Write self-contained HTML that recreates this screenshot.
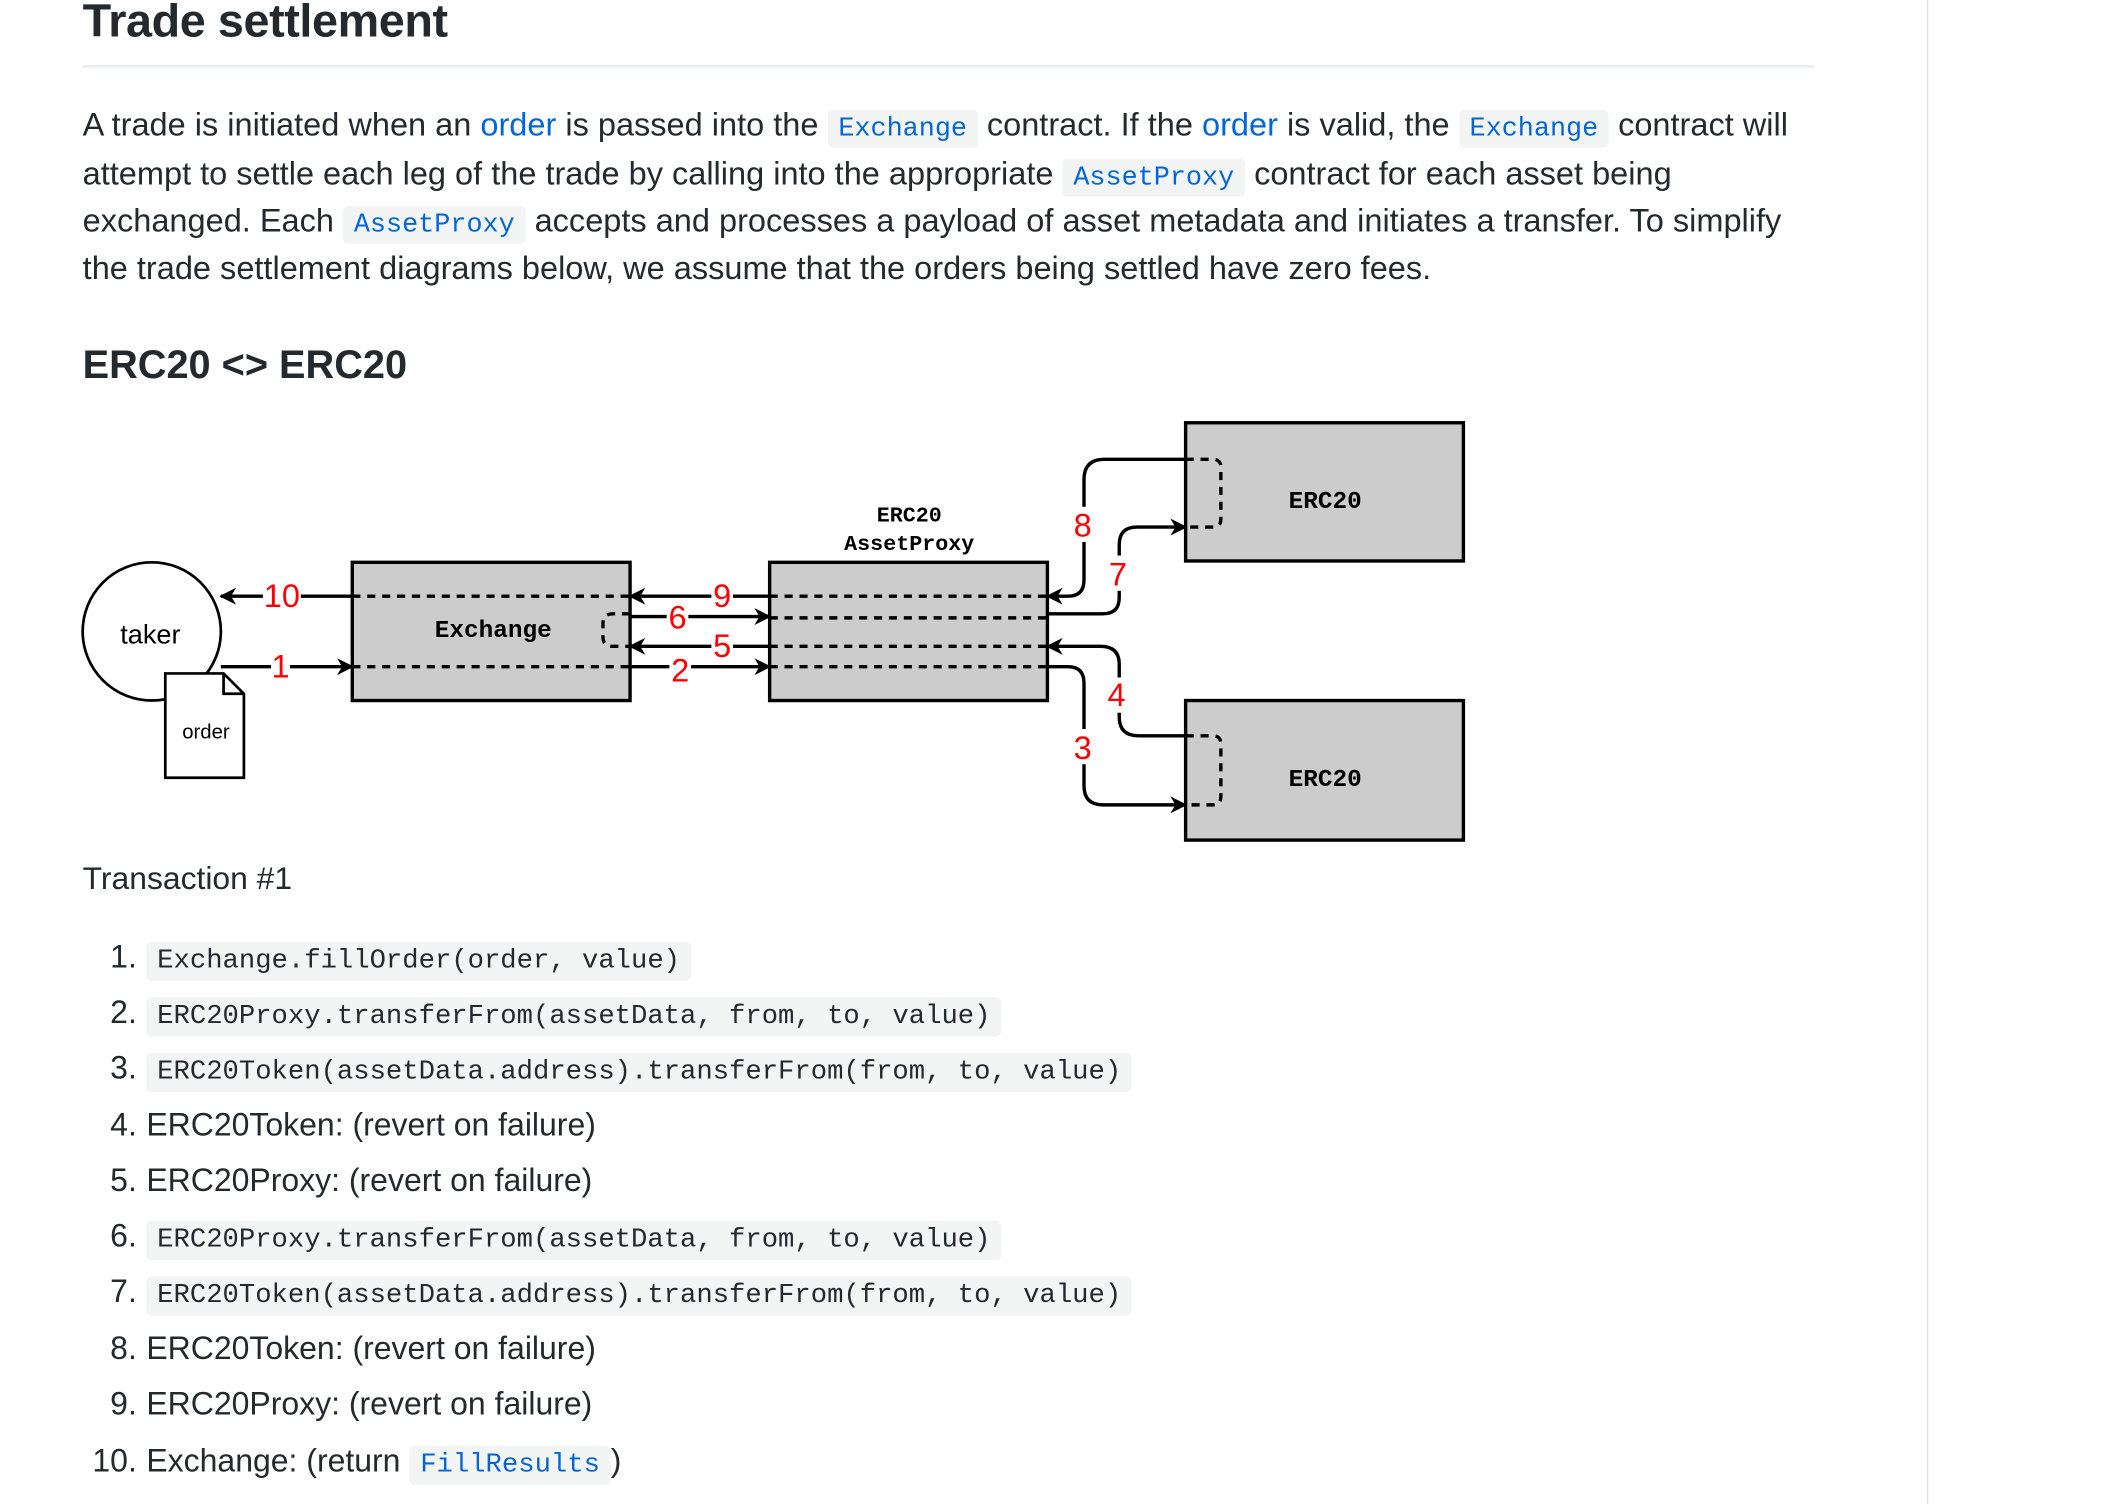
<!DOCTYPE html>
<html><head><meta charset="utf-8"><style>
html,body{margin:0;padding:0;background:#fff;overflow:hidden}
body{width:2124px;height:1504px;position:relative}
#f{position:absolute;left:0;top:0;width:1568px;height:1110px;transform:scale(1.355);transform-origin:0 0;font-family:"Liberation Sans",sans-serif;color:#24292e}
.a{position:absolute;white-space:nowrap}
.p{font-size:24px;line-height:36px}
code{font-family:"Liberation Mono",monospace;font-size:19.8px;background:#f3f4f4;border-radius:4px;padding:3px 8px}
.li code{font-size:20.1px}
.b{color:#0366d6}
.li{font-size:23.6px}
.n{position:absolute;width:40px;text-align:right}
</style></head><body><div id="f">
<div class="a" style="left:61px;top:-3px;font-size:34.5px;font-weight:bold;letter-spacing:-0.3px">Trade settlement</div>
<div class="a" style="left:61px;top:48px;width:1278px;height:2px;background:#eaecef"></div>
<div class="a" style="left:1422px;top:0;width:1px;height:1110px;background:#dfe2e5"></div>
<div class="a p" style="left:61px;top:75px">A trade is initiated when an <span class="b">order</span> is passed into the <code class="b">Exchange</code> contract. If the <span class="b">order</span> is valid, the <code class="b">Exchange</code> contract will</div>
<div class="a p" style="left:61px;top:111px">attempt to settle each leg of the trade by calling into the appropriate <code class="b">AssetProxy</code> contract for each asset being</div>
<div class="a p" style="left:61px;top:146px">exchanged. Each <code class="b">AssetProxy</code> accepts and processes a payload of asset metadata and initiates a transfer. To simplify</div>
<div class="a p" style="left:61px;top:181px">the trade settlement diagrams below, we assume that the orders being settled have zero fees.</div>
<div class="a" style="left:61px;top:253px;font-size:29.3px;font-weight:bold">ERC20 &lt;&gt; ERC20</div>

<svg class="a" style="left:0;top:0" width="1568" height="1110" viewBox="0 0 1568 1110">
<defs><marker id="ar" viewBox="0 0 10 10" refX="9" refY="5" markerWidth="5" markerHeight="5" orient="auto"><path d="M0,0 L10,5 L0,10 L3,5z" fill="#000"/></marker></defs>
<g stroke="#000" stroke-width="2.5">
<rect x="260" y="415" width="205" height="102" fill="#ccc"/>
<rect x="568" y="415" width="205" height="102" fill="#ccc"/>
<rect x="875" y="312" width="205" height="102" fill="#ccc"/>
<rect x="875" y="517" width="205" height="103" fill="#ccc"/>
<circle cx="112" cy="466" r="51" fill="#fff" stroke-width="2"/>
<path d="M122,497 H165 L180,512 V574 H122Z M165,497 V512 H180" fill="#fff" stroke-width="2"/>
</g>
<g stroke="#000" stroke-width="2.5" stroke-dasharray="6,5" fill="none">
<path d="M260,440 H465 M260,492 H465"/>
<path d="M568,440 H773 M568,456 H773 M568,477 H773 M568,492 H773"/>
<path d="M465,453 H452 Q445,453 445,460 V470 Q445,477 452,477 H465"/>
<path d="M875,339 H895 Q901,339 901,345 V383 Q901,389 895,389 H875"/>
<path d="M875,543 H895 Q901,543 901,549 V588 Q901,594 895,594 H875"/>
</g>
<g stroke="#000" stroke-width="2.5" fill="none" marker-end="url(#ar)">
<path d="M260,440 H163"/>
<path d="M163,492 H260"/>
<path d="M568,440 H465"/>
<path d="M465,455 H568"/>
<path d="M568,477 H465"/>
<path d="M465,492 H568"/>
<path d="M875,339 H815 Q800,339 800,354 V428 Q800,440 788,440 H773"/>
<path d="M773,453 H814 Q826,453 826,441 V402 Q826,389 839,389 H875"/>
<path d="M875,543 H840 Q826,543 826,529 V490 Q826,477 812,477 H773"/>
<path d="M773,492 H788 Q800,492 800,504 V580 Q800,594 814,594 H875"/>
</g>
<g fill="#fff"><rect x="194" y="428" width="28" height="22"/><rect x="200" y="480" width="14" height="22"/><rect x="525" y="428" width="16" height="22"/><rect x="492" y="444" width="16" height="22"/><rect x="525" y="466" width="16" height="22"/><rect x="494" y="482" width="16" height="22"/>
<rect x="790" y="374" width="18" height="26"/><rect x="816" y="410" width="18" height="26"/><rect x="816" y="500" width="18" height="26"/><rect x="790" y="538" width="18" height="26"/></g>
<g fill="#f00" font-family="Liberation Sans,sans-serif" font-size="24" text-anchor="middle">
<text x="208" y="448">10</text><text x="207" y="500">1</text><text x="533" y="448">9</text><text x="500" y="464">6</text><text x="533" y="485">5</text><text x="502" y="503">2</text>
<text x="799" y="396">8</text><text x="825" y="432">7</text><text x="824" y="521">4</text><text x="799" y="560">3</text>
</g>
<g font-family="Liberation Mono,monospace" font-weight="bold" text-anchor="middle" fill="#000">
<text x="364" y="470" font-size="18">Exchange</text>
<text x="671" y="385" font-size="16">ERC20</text>
<text x="671" y="406" font-size="16">AssetProxy</text>
<text x="978" y="375" font-size="18">ERC20</text>
<text x="978" y="580" font-size="18">ERC20</text>
</g>
<g font-family="Liberation Sans,sans-serif" fill="#000" text-anchor="middle">
<text x="111" y="475" font-size="20">taker</text>
<text x="152" y="545" font-size="15">order</text>
</g>
</svg>

<div class="a" style="left:61px;top:635px;font-size:23.5px">Transaction #1</div>
<div class="a li" style="left:61px;top:694px"><span class="n" style="left:0">1.</span><span style="position:absolute;left:47px"><code>Exchange.fillOrder(order, value)</code></span></div>
<div class="a li" style="left:61px;top:735px"><span class="n" style="left:0">2.</span><span style="position:absolute;left:47px"><code>ERC20Proxy.transferFrom(assetData, from, to, value)</code></span></div>
<div class="a li" style="left:61px;top:776px"><span class="n" style="left:0">3.</span><span style="position:absolute;left:47px"><code>ERC20Token(assetData.address).transferFrom(from, to, value)</code></span></div>
<div class="a li" style="left:61px;top:818px"><span class="n" style="left:0">4.</span><span style="position:absolute;left:47px">ERC20Token: (revert on failure)</span></div>
<div class="a li" style="left:61px;top:859px"><span class="n" style="left:0">5.</span><span style="position:absolute;left:47px">ERC20Proxy: (revert on failure)</span></div>
<div class="a li" style="left:61px;top:900px"><span class="n" style="left:0">6.</span><span style="position:absolute;left:47px"><code>ERC20Proxy.transferFrom(assetData, from, to, value)</code></span></div>
<div class="a li" style="left:61px;top:941px"><span class="n" style="left:0">7.</span><span style="position:absolute;left:47px"><code>ERC20Token(assetData.address).transferFrom(from, to, value)</code></span></div>
<div class="a li" style="left:61px;top:983px"><span class="n" style="left:0">8.</span><span style="position:absolute;left:47px">ERC20Token: (revert on failure)</span></div>
<div class="a li" style="left:61px;top:1024px"><span class="n" style="left:0">9.</span><span style="position:absolute;left:47px">ERC20Proxy: (revert on failure)</span></div>
<div class="a li" style="left:61px;top:1066px"><span class="n" style="left:0">10.</span><span style="position:absolute;left:47px">Exchange: (return <code class="b">FillResults</code>)</span></div>
</div></body></html>
